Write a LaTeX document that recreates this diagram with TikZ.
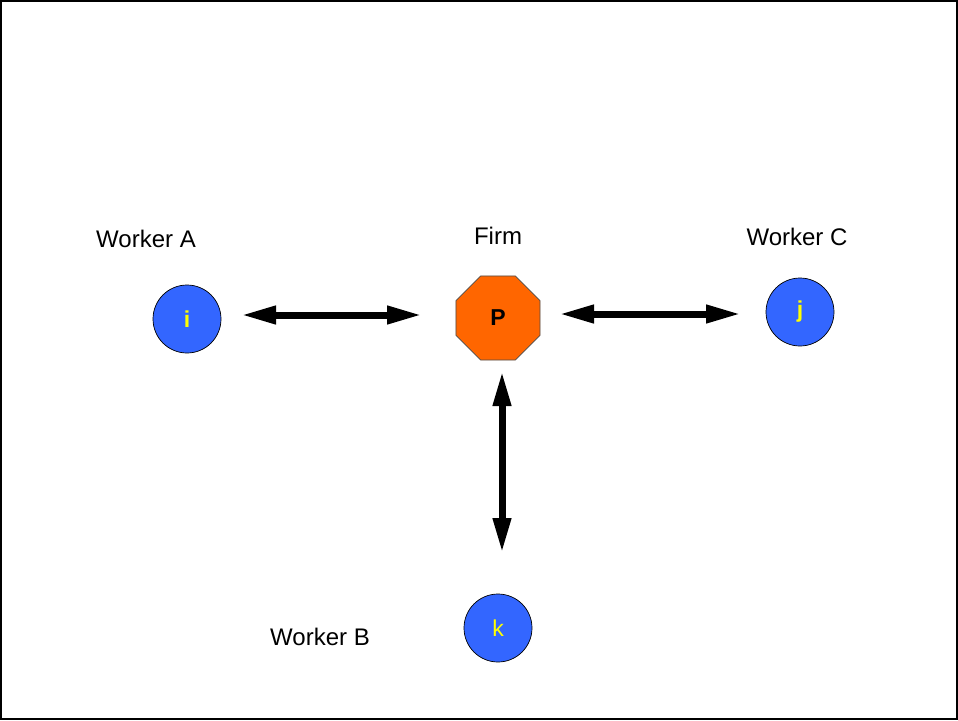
\documentclass[tikz,border=0pt]{standalone}
\usepackage{fontspec}
\setmainfont{Liberation Sans}
\usetikzlibrary{arrows.meta,shapes.geometric}
\definecolor{wblue}{HTML}{3366FF}
\definecolor{forange}{HTML}{FF6600}
\definecolor{wyellow}{HTML}{FFFF00}
\begin{document}
\begin{tikzpicture}[x=1pt,y=-1pt,
  worker/.style={circle,draw=black,line width=0.7pt,fill=wblue,minimum size=68pt,inner sep=0pt,text=wyellow,font=\fontsize{23}{26}\selectfont},
  firm/.style={regular polygon,regular polygon sides=8,draw=black!70,line width=0.7pt,fill=forange,minimum size=91pt,inner sep=0pt,font=\bfseries\fontsize{23}{26}\selectfont},
  lbl/.style={font=\fontsize{24}{28}\selectfont,inner sep=0pt},
  dbl/.style={line width=7pt,{Triangle[length=35pt,width=17pt]}-{Triangle[length=35pt,width=17pt]}}]
\useasboundingbox (0,0) rectangle (958,720);
\draw[line width=2.5pt] (1,1) rectangle (957,719);
\node[worker,font=\bfseries\fontsize{23}{26}\selectfont] (i) at (187,319) {i};
\node[worker,font=\bfseries\fontsize{23}{26}\selectfont] (j) at (800,312) {j};
\node[worker] (k) at (498,628) {k};
\node[firm] (P) at (498,318) {P};
\node[lbl] (la) at (146,239) {Worker A};
\node[lbl] (lf) at (498,236) {Firm};
\node[lbl] (lc) at (797,237) {Worker C};
\node[lbl] (lb) at (320,637) {Worker B};
\coordinate (a1) at (241,315);
\coordinate (a2) at (422,315);
\coordinate (c1) at (559,314);
\coordinate (c2) at (741,314);
\coordinate (b1) at (502,371);
\coordinate (b2) at (502,553);
\draw[dbl] (a1) -- (a2);
\draw[dbl] (c1) -- (c2);
\draw[dbl] (b1) -- (b2);
\end{tikzpicture}
\end{document}
